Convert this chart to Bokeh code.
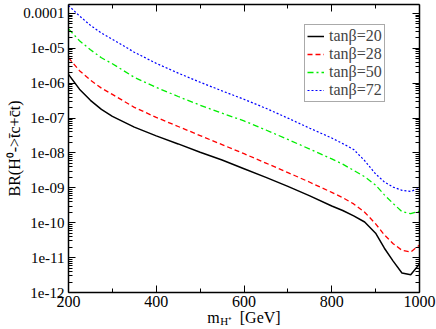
from bokeh.plotting import figure
from bokeh.models import (Range1d, FixedTicker, LinearAxis, Legend, LegendItem)
from bokeh.embed import file_html
from bokeh.resources import INLINE

# ---- data ----
mH = [200, 225, 250, 275, 300, 350, 400, 450, 500, 550, 600, 650, 700, 750, 800,
      825, 850, 875, 900, 920, 940, 960, 980, 1000]
br_tb20 = [1.78e-6, 6.76e-7, 3.24e-7, 1.78e-7, 1.12e-7, 5.50e-8, 3.09e-8, 1.82e-8,
           1.05e-8, 6.31e-9, 3.55e-9, 2.00e-9, 1.10e-9, 5.89e-10, 3.02e-10,
           2.24e-10, 1.58e-10, 1.05e-10, 5.01e-11, 1.86e-11, 7.94e-12, 3.63e-12,
           3.24e-12, 6.61e-12]
br_tb28 = [5.37e-6, 2.29e-6, 1.23e-6, 7.24e-7, 4.79e-7, 2.04e-7, 1.05e-7, 5.75e-8,
           3.16e-8, 1.74e-8, 9.55e-9, 5.13e-9, 2.75e-9, 1.45e-9, 7.41e-10,
           5.25e-10, 3.47e-10, 2.00e-10, 9.33e-11, 4.47e-11, 2.51e-11, 1.62e-11,
           1.45e-11, 2.29e-11]
br_tb50 = [3.63e-5, 1.66e-5, 9.12e-6, 5.37e-6, 3.63e-6, 1.48e-6, 7.59e-7, 4.17e-7,
           2.34e-7, 1.38e-7, 8.32e-8, 4.57e-8, 2.45e-8, 1.29e-8, 6.76e-9,
           4.79e-9, 3.16e-9, 2.09e-9, 1.20e-9, 6.31e-10, 3.55e-10, 2.09e-10,
           1.82e-10, 2.14e-10]
br_tb72 = [1.70e-4, 8.51e-5, 4.57e-5, 2.75e-5, 1.82e-5, 7.76e-6, 3.72e-6, 1.95e-6,
           1.07e-6, 6.03e-7, 3.47e-7, 1.91e-7, 1.00e-7, 5.13e-8, 2.69e-8,
           1.86e-8, 1.26e-8, 6.03e-9, 2.51e-9, 1.48e-9, 1.05e-9, 8.51e-10,
           7.94e-10, 9.77e-10]
series_labels = ["tan\u03b2=20", "tan\u03b2=28", "tan\u03b2=50", "tan\u03b2=72"]
x_major = [200, 400, 600, 800, 1000]
x_minor = [300, 500, 700, 900]
y_major = [1e-12, 1e-11, 1e-10, 1e-9, 1e-8, 1e-7, 1e-6, 1e-5, 1e-4]
y_major_labels = ["1e-12", "1e-11", "1e-10", "1e-09", "1e-08", "1e-07",
                  "1e-06", "1e-05", "0.0001"]

FONT = "Liberation Serif"
NB = "\u00a0"

p = figure(width=436, height=329, y_axis_type="log",
           x_range=Range1d(200, 1000), y_range=Range1d(1e-12, 1.81e-4),
           output_backend="svg", toolbar_location=None,
           min_border_left=68, min_border_right=17, min_border_top=4,
           min_border_bottom=37)
p.outline_line_color = None
p.xgrid.visible = False
p.ygrid.visible = False
p.background_fill_color = "white"
p.border_fill_color = "white"

y_minor = [k * t for t in y_major[:-1] for k in range(2, 10)] + [2e-4]
yticker = FixedTicker(ticks=y_major, minor_ticks=y_minor)
xticker = FixedTicker(ticks=x_major, minor_ticks=x_minor)


def style_axis(ax):
    ax.axis_line_color = "black"
    ax.axis_line_width = 1.5
    ax.major_tick_line_color = "black"
    ax.minor_tick_line_color = "black"
    ax.major_tick_line_width = 1
    ax.minor_tick_line_width = 1
    ax.major_tick_out = 0
    ax.minor_tick_out = 0
    ax.major_tick_in = 7
    ax.minor_tick_in = 4
    ax.major_label_text_font = FONT
    ax.major_label_text_color = "black"
    ax.axis_label_text_font = FONT
    ax.axis_label_text_font_style = "normal"
    ax.axis_label_text_color = "black"


# bottom axis: tick labels + "m      [GeV]" (gap holds the subscript)
xa = p.xaxis[0]
xa.ticker = xticker
style_axis(xa)
xa.major_label_text_font_size = "16px"
xa.major_label_standoff = 3
xa.axis_label = "m" + NB * 5 + "[GeV]"
xa.axis_label_text_font_size = "16px"
xa.axis_label_standoff = -1

# second bottom axis only carries the subscript "H+" of m
xsub = LinearAxis(ticker=FixedTicker(ticks=[]))
style_axis(xsub)
xsub.axis_line_color = None
xsub.axis_label = "H\u207a" + NB * 13
xsub.axis_label_text_font_size = "11px"
xsub.axis_label_standoff = -14
p.add_layout(xsub, "below")

ya = p.yaxis[0]
ya.ticker = yticker
style_axis(ya)
ya.major_label_text_font_size = "15px"
ya.major_label_standoff = 4
ya.major_label_overrides = {v: s for v, s in zip(y_major, y_major_labels)}
ya.axis_label = "BR(H\u2070->t\u0304c+c\u0304t)"
ya.axis_label_text_font_size = "16px"
ya.axis_label_standoff = -3

top = LinearAxis(ticker=xticker)
style_axis(top)
top.major_label_standoff = 0
top.major_label_overrides = {v: "" for v in x_major}
p.add_layout(top, "above")
right = LinearAxis(ticker=yticker)
style_axis(right)
right.major_label_standoff = 0
right.major_label_overrides = {v: "" for v in y_major}
p.add_layout(right, "right")

r1 = p.line(mH, br_tb20, line_color="black", line_width=1.5)
r2 = p.line(mH, br_tb28, line_color="#ff0000", line_width=1.3, line_dash="5 3")
r3 = p.line(mH, br_tb50, line_color="#00ee00", line_width=1.3, line_dash="6 3 2 3")
r4 = p.line(mH, br_tb72, line_color="#0000ff", line_width=1.2, line_dash="2 2")

legend = Legend(items=[LegendItem(label=series_labels[0], renderers=[r1]),
                       LegendItem(label=series_labels[1], renderers=[r2]),
                       LegendItem(label=series_labels[2], renderers=[r3]),
                       LegendItem(label=series_labels[3], renderers=[r4])],
                location=(236, 190), padding=2, spacing=0, margin=0,
                glyph_width=17, glyph_height=16, label_height=16,
                label_standoff=5, label_text_font=FONT,
                label_text_font_size="16px", border_line_color="#555555",
                border_line_width=1, background_fill_color="white",
                background_fill_alpha=1)
p.add_layout(legend, "center")

open("out.html", "w").write(file_html(p, INLINE))
